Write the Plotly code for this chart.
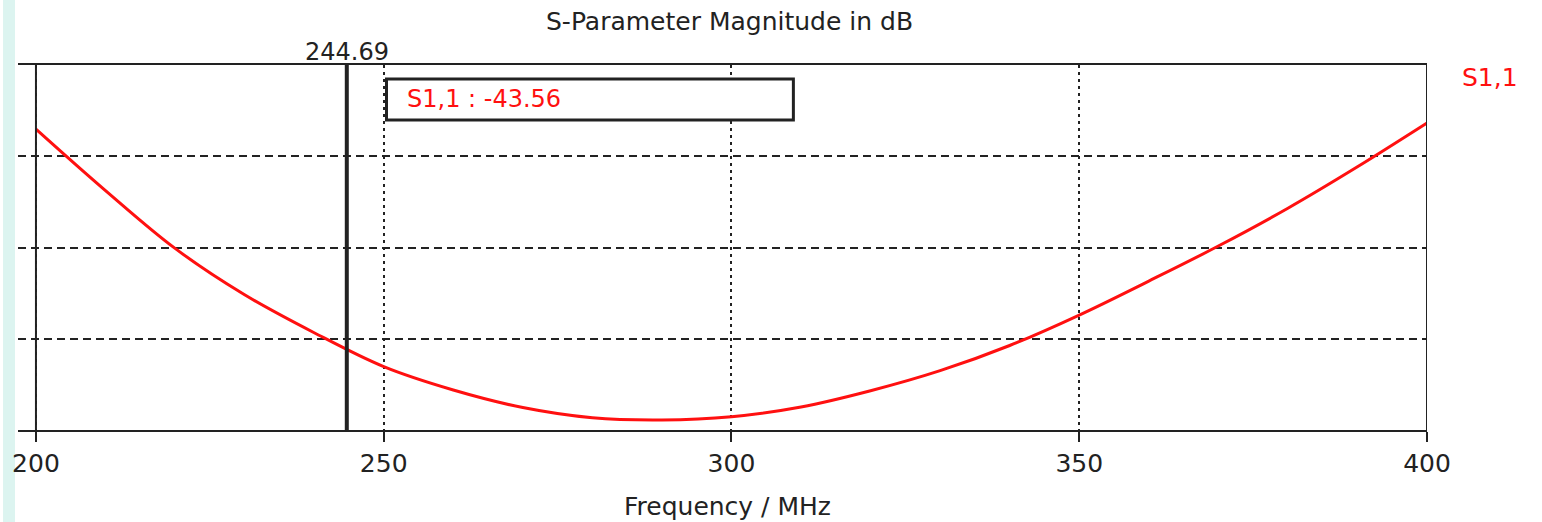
import plotly.graph_objects as go

# S1,1 magnitude (dB), every 10 MHz
freq_mhz = [200, 210, 220, 230, 240, 250, 260, 270, 280, 290, 300,
            310, 320, 330, 340, 350, 360, 370, 380, 390, 400]
s11_db = [-31.51, -34.88, -38.05, -40.59, -42.67, -44.53, -45.81, -46.77, -47.33, -47.45, -47.27,
          -46.74, -45.85, -44.75, -43.37, -41.70, -39.84, -37.92, -35.85, -33.58, -31.18]

x_ticks = [200, 250, 300, 350, 400]
y_grid = [-43, -38, -33]
frame_freqs = [200, 400]
marker_freq = 244.69
marker_value = -43.56
marker_box = [250.4, 308.9]   # MHz span of the readout box

RED = '#ff1010'
INK = '#222222'
FONT = 'DejaVu Sans'

# plot area in pixels (left, right, top, bottom)
PL, PR, PT, PB = 15, 1427, 65, 430
PW, PH = PR - PL, PB - PT


def px(x):
    return (x - PL) / PW


def py(y):
    return (PB - y) / PH


fig = go.Figure()
fig.add_scatter(x=freq_mhz, y=s11_db, mode='lines', line=dict(color=RED, width=3, shape='spline'),
                name='S1,1', showlegend=False, hoverinfo='skip')

# solid frame lines at the ends of the sweep
for f in frame_freqs:
    fig.add_shape(type='line', x0=f, x1=f, y0=0, y1=1, xref='x', yref='paper',
                  line=dict(color=INK, width=2))

# marker line
fig.add_shape(type='line', x0=marker_freq, x1=marker_freq, y0=0, y1=1, xref='x', yref='paper',
              line=dict(color=INK, width=4))
fig.add_annotation(x=marker_freq, y=py(52), xref='x', yref='paper', yanchor='middle', showarrow=False,
                   text=f'{marker_freq:.2f}', font=dict(family=FONT, size=24, color=INK))

# readout box
fig.add_shape(type='rect', x0=marker_box[0], x1=marker_box[1], y0=py(120), y1=py(79), xref='x', yref='paper',
              line=dict(color=INK, width=3), fillcolor='white')
fig.add_annotation(x=marker_box[0], y=py(99), xref='x', yref='paper', xanchor='left', yanchor='middle',
                   xshift=18, showarrow=False, text=f'S1,1 : {marker_value:.2f}',
                   font=dict(family=FONT, size=24, color=RED))

# curve label on the right
fig.add_annotation(x=px(1460), y=py(78), xref='paper', yref='paper', xanchor='left', yanchor='middle',
                   showarrow=False, text='S1,1', font=dict(family=FONT, size=25, color=RED))

# title and x-axis title
fig.add_annotation(x=px(728), y=py(21), xref='paper', yref='paper', showarrow=False,
                   yanchor='middle', text='S-Parameter Magnitude in dB',
                   font=dict(family=FONT, size=25, color=INK))
fig.add_annotation(x=px(726), y=py(507), xref='paper', yref='paper', showarrow=False,
                   yanchor='middle', text='Frequency / MHz', font=dict(family=FONT, size=25, color=INK))

# light cyan strip on the far left
fig.add_shape(type='rect', x0=px(0), x1=px(12), y0=py(522), y1=py(0),
              xref='paper', yref='paper', fillcolor='#dcf4f0', line=dict(width=0), layer='below')

fig.update_layout(
    width=1542, height=522,
    margin=dict(l=PL, r=1542 - PR, t=PT, b=522 - PB),
    paper_bgcolor='white', plot_bgcolor='white',
    font=dict(family=FONT, color=INK),
    xaxis=dict(range=[200 - (33 - PL) / 6.97, 400], tickvals=x_ticks, ticks='outside', ticklen=10,
               tickwidth=2, tickcolor=INK, tickfont=dict(size=25, color=INK),
               showgrid=True, gridcolor=INK, gridwidth=2, griddash='3px,4px',
               showline=True, linecolor=INK, linewidth=2, mirror=True, zeroline=False),
    yaxis=dict(range=[-48, -28], tickvals=y_grid, showticklabels=False, ticks='',
               showgrid=True, gridcolor=INK, gridwidth=1.5, griddash='8px,5px',
               showline=False, zeroline=False),
)

fig.write_html("out.html", config={'displayModeBar': False},
               post_script="document.body.style.margin='0';")
